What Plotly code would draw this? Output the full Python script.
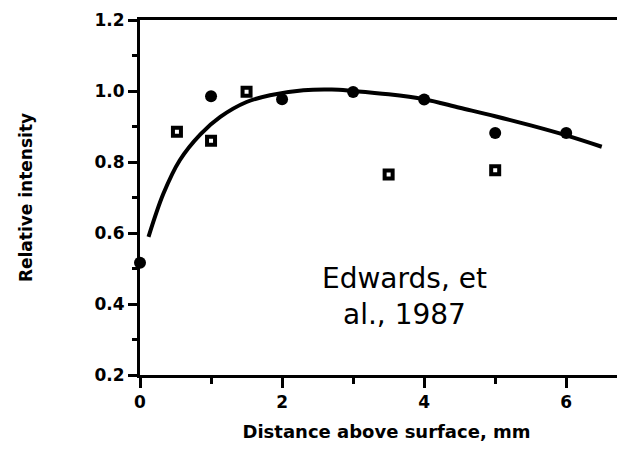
import plotly.graph_objects as go

# Data
circle_x = [0, 1, 2, 3, 4, 5, 6]
circle_y = [0.516, 0.985, 0.977, 0.997, 0.976, 0.882, 0.882]

square_x = [0.52, 1.0, 1.5, 3.5, 5.0]
square_y = [0.885, 0.86, 0.998, 0.765, 0.777]

curve_x = [0.12, 0.33, 0.56, 0.85, 1.13, 1.5, 1.83, 2.3, 2.7, 3.0, 3.5, 4.0, 4.5, 5.0, 5.5, 6.0, 6.5]
curve_y = [0.589, 0.711, 0.805, 0.878, 0.927, 0.969, 0.988, 1.002, 1.004, 1.0, 0.991, 0.977, 0.953, 0.929, 0.903, 0.875, 0.843]

x_title = "Distance above surface, mm"
y_title = "Relative intensity"
note = "Edwards, et<br>al., 1987"

fig = go.Figure()
fig.add_trace(go.Scatter(x=curve_x, y=curve_y, mode="lines",
                         line=dict(color="black", width=4, shape="spline", smoothing=1.0),
                         cliponaxis=False, showlegend=False))
fig.add_trace(go.Scatter(x=circle_x, y=circle_y, mode="markers",
                         marker=dict(symbol="circle", size=12, color="black"),
                         cliponaxis=False, showlegend=False))
fig.add_trace(go.Scatter(x=square_x, y=square_y, mode="markers",
                         marker=dict(symbol="square-open", size=8, color="black",
                                     line=dict(color="black", width=4)),
                         cliponaxis=False, showlegend=False))

fig.add_annotation(x=3.73, y=0.42, xref="x", yref="y", text=note, showarrow=False,
                   font=dict(family="DejaVu Sans", size=28, color="black"),
                   align="center", xanchor="center", yanchor="middle")

tickfont = dict(family="DejaVu Sans", size=17, color="black")
titlefont = dict(family="DejaVu Sans", size=18, color="black")

fig.update_xaxes(range=[0, 6.94], tickvals=[0, 2, 4, 6],
                 ticktext=["<b>0</b>", "<b>2</b>", "<b>4</b>", "<b>6</b>"],
                 ticks="outside", ticklen=10, tickwidth=3, tickcolor="black",
                 minor=dict(tickvals=[1, 3, 5], ticks="outside", ticklen=6, tickwidth=2.5,
                            tickcolor="black", showgrid=False),
                 showline=True, linecolor="black", linewidth=3, mirror=True,
                 showgrid=False, zeroline=False, tickfont=tickfont,
                 title=dict(text="<b>" + x_title + "</b>", font=titlefont, standoff=14))
fig.update_yaxes(range=[0.2, 1.2], tickvals=[0.2, 0.4, 0.6, 0.8, 1.0, 1.2],
                 ticktext=["<b>0.2</b>", "<b>0.4</b>", "<b>0.6</b>", "<b>0.8</b>", "<b>1.0</b>", "<b>1.2</b>"],
                 ticks="outside", ticklen=9, tickwidth=3, tickcolor="black",
                 minor=dict(tickvals=[0.3, 0.5, 0.7, 0.9, 1.1], ticks="outside", ticklen=5,
                            tickwidth=2.5, tickcolor="black", showgrid=False),
                 showline=True, linecolor="black", linewidth=3, mirror=False,
                 showgrid=False, zeroline=False, tickfont=tickfont,
                 title=dict(text="<b>" + y_title + "</b>",
                            font=dict(family="DejaVu Sans", size=17, color="black"), standoff=58))

fig.update_layout(width=625, height=436, margin=dict(l=132, r=0, t=12, b=69, autoexpand=False),
                  plot_bgcolor="white", paper_bgcolor="white")

fig.write_html("out.html")
